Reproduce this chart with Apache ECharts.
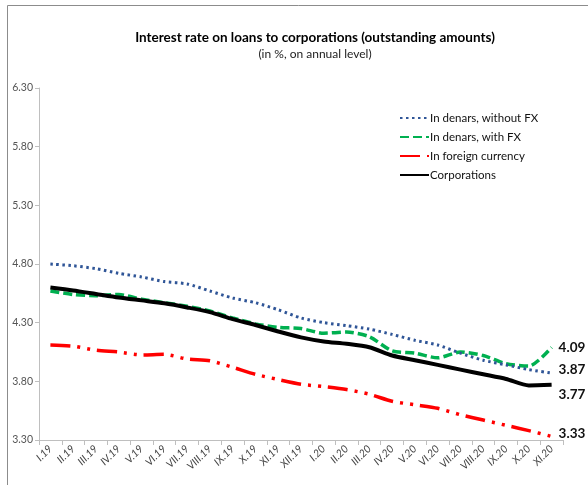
<!DOCTYPE html>
<html>
<head>
<meta charset="utf-8">
<script src="https://cdn.jsdelivr.net/npm/echarts@6/dist/echarts.min.js"></script>
<style>
  html, body { margin: 0; padding: 0; background: #fff; }
  #chart { width: 588px; height: 485px; }
</style>
</head>
<body>
<div id="chart"></div>
<script>
// Monthly periods, January 2019 – November 2020
const months = ['I.19','II.19','III.19','IV.19','V.19','VI.19','VII.19','VIII.19','IX.19','X.19','XI.19','XII.19',
                'I.20','II.20','III.20','IV.20','V.20','VI.20','VII.20','VIII.20','IX.20','X.20','XI.20'];

// Interest rates, % on annual level
const denarsWithoutFx = [4.80, 4.785, 4.76, 4.72, 4.69, 4.65, 4.63, 4.57, 4.51, 4.47, 4.41, 4.34,
                         4.30, 4.275, 4.245, 4.20, 4.15, 4.11, 4.04, 3.98, 3.94, 3.90, 3.87];
const denarsWithFx    = [4.57, 4.54, 4.53, 4.54, 4.50, 4.47, 4.44, 4.40, 4.34, 4.29, 4.26, 4.25,
                         4.21, 4.22, 4.18, 4.06, 4.04, 4.00, 4.05, 4.02, 3.95, 3.93, 4.09];
const foreignCurrency = [4.11, 4.10, 4.065, 4.05, 4.025, 4.03, 3.99, 3.975, 3.92, 3.86, 3.815, 3.775,
                         3.755, 3.73, 3.69, 3.63, 3.60, 3.57, 3.515, 3.47, 3.425, 3.38, 3.33];
const corporations    = [4.60, 4.575, 4.545, 4.515, 4.49, 4.465, 4.43, 4.39, 4.33, 4.28, 4.225, 4.175,
                         4.14, 4.12, 4.09, 4.02, 3.98, 3.94, 3.90, 3.86, 3.82, 3.765, 3.77];

const seriesNames = ['In denars, without FX', 'In denars, with FX', 'In foreign currency', 'Corporations'];

const FONT = 'Lato, "Open Sans", sans-serif';

// Value printed after the last month of a series
function endLabel(offsetY) {
  return {
    show: true, distance: 7, offset: [0, offsetY],
    formatter: p => Number(p.value).toFixed(2),
    fontFamily: FONT, fontWeight: 'bold', fontSize: 13.5, color: '#111'
  };
}

const chart = echarts.init(document.getElementById('chart'), null, { renderer: 'canvas' });

chart.setOption({
  animation: false,
  backgroundColor: '#fff',
  title: {
    text: 'Interest rate on loans to corporations (outstanding amounts)',
    subtext: '(in %, on annual level)',
    left: 310, top: 26, textAlign: 'center', itemGap: 3,
    textStyle: { fontFamily: FONT, fontWeight: 'bold', fontSize: 13.5, color: '#000' },
    subtextStyle: { fontFamily: FONT, fontSize: 12, color: '#222' }
  },
  graphic: [{
    type: 'rect', silent: true, z: -1,
    shape: { x: 7.5, y: 5.5, width: 700, height: 600 },
    style: { fill: 'none', stroke: '#8c8c8c', lineWidth: 1 }
  }],
  legend: {
    orient: 'vertical', left: 394, top: 107, itemGap: 7,
    itemWidth: 29, itemHeight: 10,
    itemStyle: { opacity: 0 },
    textStyle: { fontFamily: FONT, fontSize: 11.5, color: '#111', padding: [0, 0, 0, -4] },
    data: seriesNames
  },
  grid: { left: 39, right: 25, top: 88, bottom: 45 },
  xAxis: {
    type: 'category', data: months, boundaryGap: true,
    axisLine: { lineStyle: { color: '#bfbfbf', width: 1 } },
    axisTick: { show: true, length: 5, lineStyle: { color: '#bfbfbf' } },
    axisLabel: { rotate: 45, margin: 7, interval: 0, fontFamily: FONT, fontSize: 10.5,
                 fontStyle: 'italic', color: '#444' }
  },
  yAxis: {
    type: 'value', min: 3.3, max: 6.3, interval: 0.5,
    axisLine: { show: true, lineStyle: { color: '#bfbfbf', width: 1 } },
    axisTick: { show: true, length: 4, lineStyle: { color: '#bfbfbf' } },
    axisLabel: { margin: 6, fontFamily: FONT, fontSize: 10.5, color: '#555',
                 formatter: v => v.toFixed(2) },
    splitLine: { show: false }
  },
  series: [
    { name: seriesNames[0], type: 'line', symbol: 'none', smooth: 0.25, z: 3,
      data: denarsWithoutFx, endLabel: endLabel(-3),
      lineStyle: { color: '#2f5597', width: 3, type: [2.5, 3.5], cap: 'butt' },
      itemStyle: { color: '#2f5597' } },
    { name: seriesNames[1], type: 'line', symbol: 'none', smooth: 0.25, z: 2,
      data: denarsWithFx, endLabel: endLabel(0),
      lineStyle: { color: '#00b050', width: 3.5, type: [9, 4], cap: 'butt' },
      itemStyle: { color: '#00b050' } },
    { name: seriesNames[2], type: 'line', symbol: 'none', smooth: 0.25, z: 2,
      data: foreignCurrency, endLabel: endLabel(-3),
      lineStyle: { color: '#ff0000', width: 3.5, type: [20, 7, 3, 7, 3, 7], cap: 'butt' },
      itemStyle: { color: '#ff0000' } },
    { name: seriesNames[3], type: 'line', symbol: 'none', smooth: 0.25, z: 4,
      data: corporations, endLabel: endLabel(10),
      lineStyle: { color: '#000', width: 4 },
      itemStyle: { color: '#000' } }
  ]
});
</script>
</body>
</html>
